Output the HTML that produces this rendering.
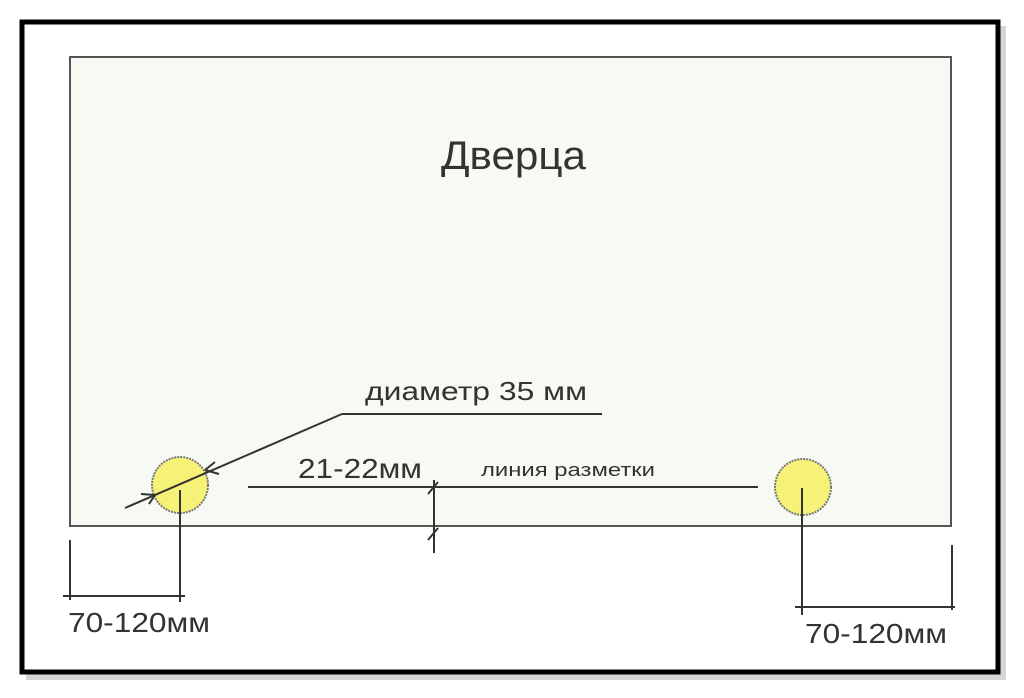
<!DOCTYPE html>
<html><head><meta charset="utf-8"><style>
html,body{margin:0;padding:0;background:#fff;width:1024px;height:698px;overflow:hidden}
svg{display:block}
text{font-family:"Liberation Sans",Arial,sans-serif;fill:#333}
</style></head><body>
<svg width="1024" height="698" viewBox="0 0 1024 698">
<rect x="0" y="0" width="1024" height="698" fill="#fff"/>
<rect x="26" y="26" width="980" height="654" fill="#888" opacity="0.35"/>
<rect x="22" y="22" width="976" height="650" fill="#fff" stroke="#000" stroke-width="5"/>
<rect x="70" y="57" width="881" height="469" fill="#f7faf3" stroke="#555" stroke-width="2"/>
<text x="441" y="169" font-size="40" textLength="145" lengthAdjust="spacingAndGlyphs" fill="#222">Дверца</text>
<g stroke="#333" stroke-width="2" fill="none">
<circle cx="180" cy="485" r="28" fill="#f5f277" stroke="#777" stroke-dasharray="2 1"/>
<circle cx="803" cy="487" r="28" fill="#f5f277" stroke="#777" stroke-dasharray="2 1"/>
<line x1="125" y1="508" x2="342" y2="414"/>
<line x1="342" y1="414" x2="602" y2="414"/>
<path d="M205 470 l10 -8 M205 470 l14 4 M155 495 l-14 -1 M155 495 l-6 9"/>
<line x1="248" y1="487" x2="758" y2="487"/>
<line x1="434" y1="480" x2="434" y2="553"/>
<path d="M428 494 l10 -12 M428 540 l10 -12"/>
<line x1="70" y1="540" x2="70" y2="600"/>
<line x1="180" y1="490" x2="180" y2="602"/>
<line x1="63" y1="596" x2="185" y2="596"/>
<line x1="802" y1="488" x2="802" y2="615"/>
<line x1="952" y1="545" x2="952" y2="610"/>
<line x1="795" y1="607" x2="955" y2="607"/>
</g>
<text x="365" y="400" font-size="26" textLength="222" lengthAdjust="spacingAndGlyphs">диаметр 35 мм</text>
<text x="298" y="478" font-size="28" textLength="124" lengthAdjust="spacingAndGlyphs">21-22мм</text>
<text x="481" y="476" font-size="18" textLength="174" lengthAdjust="spacingAndGlyphs">линия разметки</text>
<text x="68" y="632" font-size="28" fill="#555" textLength="142" lengthAdjust="spacingAndGlyphs">70-120мм</text>
<text x="805" y="643" font-size="28" fill="#555" textLength="142" lengthAdjust="spacingAndGlyphs">70-120мм</text>
</svg>
</body></html>
